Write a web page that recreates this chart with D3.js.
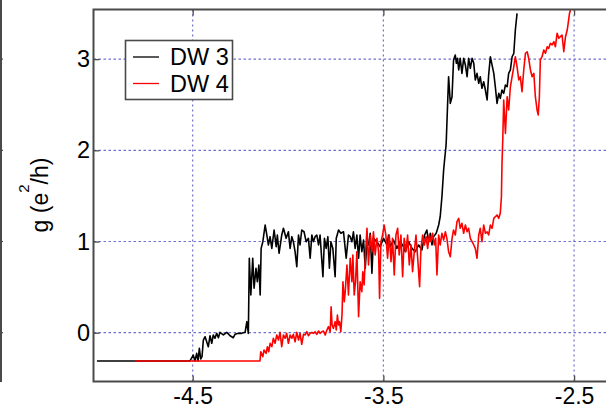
<!DOCTYPE html>
<html>
<head>
<meta charset="utf-8">
<script src="https://cdn.jsdelivr.net/npm/d3@7"></script>
<style>
  html, body { margin: 0; padding: 0; background: #fff; }
  svg { display: block; }
  text { font-family: "Liberation Sans", Arial, Helvetica, sans-serif; fill: #000; }
</style>
</head>
<body>
<svg id="chart" width="606" height="409"></svg>
<script>
// Conductance g (e^2/h) versus gate voltage for two devices
const seriesNames = ["DW 3", "DW 4"];
const seriesColors = ["#000000", "#ff0000"];

const xTicks = [-4.5, -3.5, -2.5];
const yTicks = [0, 1, 2, 3];

const dw3Gate = [-5.002,-4.514,-4.497,-4.488,-4.479,-4.472,-4.465,-4.458,-4.451,-4.444,
  -4.435,-4.418,-4.409,-4.400,-4.392,-4.383,-4.374,-4.365,-4.357,-4.339,
  -4.321,-4.304,-4.287,-4.278,-4.260,-4.243,-4.225,-4.216,-4.208,-4.203,
  -4.195,-4.185,-4.178,-4.168,-4.161,-4.153,-4.146,-4.141,-4.132,-4.120,
  -4.111,-4.103,-4.094,-4.085,-4.073,-4.062,-4.056,-4.047,-4.033,-4.024,
  -4.010,-3.998,-3.989,-3.980,-3.972,-3.963,-3.954,-3.945,-3.937,-3.928,
  -3.916,-3.905,-3.893,-3.884,-3.875,-3.867,-3.858,-3.849,-3.840,-3.832,
  -3.817,-3.809,-3.800,-3.791,-3.783,-3.775,-3.765,-3.753,-3.747,-3.735,
  -3.723,-3.709,-3.695,-3.683,-3.674,-3.665,-3.657,-3.648,-3.639,-3.630,
  -3.622,-3.613,-3.604,-3.595,-3.586,-3.578,-3.569,-3.560,-3.552,-3.534,
  -3.517,-3.499,-3.481,-3.473,-3.464,-3.447,-3.429,-3.412,-3.394,-3.385,
  -3.368,-3.350,-3.333,-3.315,-3.298,-3.284,-3.272,-3.263,-3.254,-3.245,
  -3.237,-3.223,-3.210,-3.202,-3.193,-3.184,-3.179,-3.172,-3.170,-3.158,
  -3.149,-3.140,-3.132,-3.123,-3.117,-3.111,-3.105,-3.097,-3.088,-3.079,
  -3.070,-3.061,-3.053,-3.044,-3.035,-3.026,-3.018,-3.009,-3.000,-2.992,
  -2.983,-2.974,-2.965,-2.956,-2.948,-2.939,-2.930,-2.921,-2.913,-2.904,
  -2.895,-2.887,-2.878,-2.869,-2.860,-2.851,-2.843,-2.834,-2.825,-2.816,
  -2.808,-2.799];

const dw3G = [-0.310,-0.310,-0.245,-0.310,-0.226,-0.310,-0.171,-0.288,-0.263,-0.080,
  -0.044,-0.154,-0.033,-0.116,-0.025,-0.061,-0.007,-0.055,0.004,-0.025,
  0.004,-0.033,-0.055,-0.018,-0.007,-0.007,0.004,0.121,-0.007,0.816,
  0.413,0.816,0.487,0.706,0.559,0.742,0.413,0.925,0.998,1.181,
  1.071,0.962,1.053,0.925,1.126,0.943,1.071,0.871,1.071,1.145,
  1.035,1.107,0.925,1.053,0.998,0.888,0.724,1.071,0.962,1.126,
  1.107,0.998,1.035,0.816,1.071,0.998,1.053,1.071,0.962,1.071,
  0.614,1.035,0.925,1.053,0.706,0.998,0.925,0.614,1.035,1.126,
  1.090,1.107,0.816,1.071,1.053,0.998,1.107,0.925,1.071,0.816,
  1.071,0.888,1.016,0.706,0.998,0.962,1.090,0.651,1.035,0.998,
  0.943,1.035,0.962,1.071,0.943,1.016,0.925,0.998,0.943,0.888,
  0.998,0.925,0.888,0.962,0.907,1.071,1.126,0.998,1.090,0.962,
  1.053,1.090,1.181,1.272,1.491,1.784,1.894,2.039,2.113,2.807,
  2.515,2.588,2.990,3.045,2.954,3.009,2.881,3.009,2.844,3.009,
  2.935,2.807,3.009,2.899,3.009,2.954,2.771,2.844,2.735,2.807,
  2.680,2.752,2.661,2.552,2.826,3.026,2.935,2.844,2.697,2.515,
  2.625,2.570,2.661,2.625,2.716,2.697,2.844,2.881,3.026,3.064,
  3.319,3.502];

const dw4Gate = [-4.803,-4.147,-4.143,-4.132,-4.126,-4.115,-4.108,-4.101,-4.094,-4.085,
  -4.077,-4.068,-4.059,-4.050,-4.042,-4.033,-4.024,-4.015,-4.007,-3.998,
  -3.989,-3.980,-3.972,-3.963,-3.954,-3.945,-3.937,-3.928,-3.919,-3.910,
  -3.901,-3.893,-3.884,-3.875,-3.867,-3.858,-3.849,-3.840,-3.832,-3.823,
  -3.814,-3.805,-3.796,-3.788,-3.779,-3.774,-3.769,-3.762,-3.753,-3.747,
  -3.741,-3.735,-3.730,-3.723,-3.717,-3.712,-3.705,-3.700,-3.691,-3.683,
  -3.674,-3.665,-3.660,-3.653,-3.646,-3.639,-3.630,-3.622,-3.613,-3.608,
  -3.601,-3.594,-3.586,-3.578,-3.569,-3.560,-3.552,-3.543,-3.534,-3.525,
  -3.520,-3.513,-3.504,-3.496,-3.487,-3.478,-3.469,-3.460,-3.452,-3.443,
  -3.434,-3.425,-3.417,-3.408,-3.399,-3.391,-3.382,-3.373,-3.364,-3.355,
  -3.347,-3.338,-3.329,-3.320,-3.310,-3.303,-3.294,-3.285,-3.276,-3.268,
  -3.259,-3.250,-3.242,-3.233,-3.226,-3.219,-3.210,-3.202,-3.193,-3.184,
  -3.175,-3.167,-3.158,-3.149,-3.140,-3.132,-3.123,-3.114,-3.105,-3.097,
  -3.088,-3.079,-3.070,-3.061,-3.053,-3.044,-3.035,-3.026,-3.018,-3.009,
  -3.000,-2.992,-2.983,-2.974,-2.965,-2.956,-2.948,-2.939,-2.930,-2.921,
  -2.913,-2.904,-2.895,-2.887,-2.881,-2.878,-2.874,-2.869,-2.860,-2.851,
  -2.843,-2.834,-2.825,-2.816,-2.808,-2.799,-2.790,-2.782,-2.773,-2.764,
  -2.755,-2.746,-2.738,-2.729,-2.720,-2.711,-2.703,-2.694,-2.688,-2.682,
  -2.677,-2.668,-2.659,-2.650,-2.641,-2.633,-2.624,-2.615,-2.606,-2.598,
  -2.589,-2.580,-2.572,-2.563,-2.554,-2.545,-2.536,-2.531,-2.524,-2.519];

const dw4G = [-0.310,-0.310,-0.208,-0.263,-0.190,-0.226,-0.154,-0.208,-0.116,-0.154,
  -0.061,-0.116,-0.025,-0.080,0.004,-0.154,-0.025,-0.061,-0.007,-0.116,
  -0.025,-0.061,-0.018,-0.099,0.004,-0.080,-0.007,-0.127,-0.018,-0.025,
  0.011,-0.033,-0.007,0.004,-0.007,0.011,-0.018,0.019,-0.007,0.011,
  0.019,-0.025,0.030,0.066,0.011,0.285,0.084,0.048,0.121,0.030,
  0.194,0.084,0.121,0.011,0.194,0.559,0.340,0.450,0.742,0.413,
  0.816,0.559,0.852,0.413,0.559,0.888,0.175,0.559,0.450,0.669,
  0.523,0.852,1.145,0.742,1.071,0.888,1.107,0.852,1.035,0.888,
  0.377,0.998,1.071,1.181,1.071,0.816,1.071,0.779,1.035,0.633,
  1.071,1.145,0.852,1.071,0.614,1.035,0.888,1.071,0.742,0.962,
  0.669,0.888,1.071,0.816,0.504,0.925,1.071,0.962,1.053,0.925,
  1.071,0.998,1.090,0.962,1.035,0.633,1.071,0.962,1.090,1.016,
  1.107,1.035,0.888,0.833,1.035,1.126,1.071,1.217,1.254,1.145,
  1.200,1.090,1.181,1.107,1.145,1.035,0.998,0.962,0.925,0.816,
  1.071,1.145,0.998,1.181,1.090,1.107,1.071,1.181,1.145,1.254,
  1.272,1.291,1.254,1.309,1.491,1.857,2.113,2.552,2.186,2.588,
  2.442,2.697,2.807,2.917,3.026,2.917,2.771,2.807,2.643,2.881,
  3.064,3.081,3.009,2.881,2.807,2.844,2.588,2.442,2.387,2.588,
  2.990,3.026,3.100,3.064,3.136,3.118,3.173,3.155,3.191,3.136,
  3.283,3.228,3.246,3.264,3.081,3.246,3.319,3.393,3.502,3.538];

const series = [
  { name: seriesNames[0], color: seriesColors[0], pts: d3.zip(dw3Gate, dw3G) },
  { name: seriesNames[1], color: seriesColors[1], pts: d3.zip(dw4Gate, dw4G) }
];

const svg = d3.select("#chart");
const W = 606, H = 409;
const plot = { left: 93.5, right: 606.5, top: 9.5, bottom: 381.5 };

const x = d3.scaleLinear().domain([-5.02, -2.33]).range([plot.left, plot.right]);
const y = d3.scaleLinear().domain([-0.535, 3.544]).range([plot.bottom, plot.top]);

const axisColor = "#4a4a4a";
const gridColor = "#6f6fcf";

// edge of the neighbouring panel on the left
svg.append("line").attr("x1", 1).attr("x2", 1).attr("y1", 0).attr("y2", plot.bottom + 0.5)
  .attr("stroke", axisColor).attr("stroke-width", 2);
svg.append("g").selectAll("line").data(yTicks).join("line")
  .attr("x1", 0).attr("x2", 3).attr("y1", d => y(d)).attr("y2", d => y(d))
  .attr("stroke", axisColor).attr("stroke-width", 1.2);

// dotted grid
const grid = svg.append("g");
grid.selectAll(".gx").data(xTicks).join("line")
  .attr("x1", d => x(d)).attr("x2", d => x(d))
  .attr("y1", plot.top).attr("y2", plot.bottom)
  .attr("stroke", gridColor).attr("stroke-width", 1.2).attr("stroke-dasharray", "2,3");
grid.selectAll(".gy").data(yTicks).join("line")
  .attr("x1", plot.left).attr("x2", W)
  .attr("y1", d => y(d)).attr("y2", d => y(d))
  .attr("stroke", gridColor).attr("stroke-width", 1.2).attr("stroke-dasharray", "2.5,2.5");

// traces
svg.append("clipPath").attr("id", "plotclip").append("rect")
  .attr("x", plot.left).attr("y", plot.top)
  .attr("width", plot.right - plot.left).attr("height", plot.bottom - plot.top);

const line = d3.line().x(d => x(d[0])).y(d => y(d[1]));
svg.append("g").attr("clip-path", "url(#plotclip)")
  .selectAll("path").data(series).join("path")
  .attr("d", d => line(d.pts))
  .attr("fill", "none")
  .attr("stroke", d => d.color)
  .attr("stroke-width", 1.6)
  .attr("stroke-linejoin", "round");

// axes (inward ticks)
const fontSize = 23;
const xAxis = d3.axisBottom(x).tickValues(xTicks).tickSize(-6).tickPadding(5.7)
  .tickFormat(d => d.toFixed(1));
const gx = svg.append("g").attr("transform", `translate(0,${plot.bottom})`).call(xAxis);
gx.select(".domain").remove();
gx.selectAll(".tick line").attr("stroke", axisColor).attr("stroke-width", 1.3);
gx.selectAll(".tick text").attr("font-size", fontSize)
  .attr("font-family", '"Liberation Sans", Arial, sans-serif').attr("fill", "#000");

const xTop = d3.axisTop(x).tickValues(xTicks).tickSize(-6).tickFormat("");
const gxt = svg.append("g").attr("transform", `translate(0,${plot.top})`).call(xTop);
gxt.select(".domain").remove();
gxt.selectAll(".tick line").attr("stroke", axisColor).attr("stroke-width", 1.3);

const yAxis = d3.axisLeft(y).tickValues(yTicks).tickSize(-6).tickPadding(3.5)
  .tickFormat(d3.format("d"));
const gy = svg.append("g").attr("transform", `translate(${plot.left},0)`).call(yAxis);
gy.select(".domain").remove();
gy.selectAll(".tick line").attr("stroke", axisColor).attr("stroke-width", 1.3);
gy.selectAll(".tick text").attr("font-size", 23.5)
  .attr("font-family", '"Liberation Sans", Arial, sans-serif').attr("fill", "#000");

// frame
svg.append("path")
  .attr("d", `M${W + 2},${plot.top}H${plot.left}V${plot.bottom}H${W + 2}`)
  .attr("fill", "none").attr("stroke", axisColor).attr("stroke-width", 2);

// y-axis title
const yt = svg.append("text")
  .attr("transform", "translate(48,195) rotate(-90)")
  .attr("text-anchor", "middle")
  .attr("font-size", 23);
yt.append("tspan").text("g (e");
yt.append("tspan").attr("dy", -19).attr("font-size", 15).text("2");
yt.append("tspan").attr("dy", 19).text("/h)");

// legend
const lg = svg.append("g");
lg.append("rect").attr("x", 125.5).attr("y", 40.5).attr("width", 107).attr("height", 59)
  .attr("fill", "#fff").attr("stroke", axisColor).attr("stroke-width", 1.6);
const rows = lg.selectAll(".row").data(series).join("g")
  .attr("transform", (d, i) => `translate(0,${57 + i * 26.5})`);
rows.append("line").attr("x1", 133).attr("x2", 159).attr("y1", 0).attr("y2", 0)
  .attr("stroke", d => d.color).attr("stroke-width", 1.3);
rows.append("text").attr("x", 170).attr("y", 8.3).attr("font-size", 23.5).text(d => d.name);
</script>
</body>
</html>
